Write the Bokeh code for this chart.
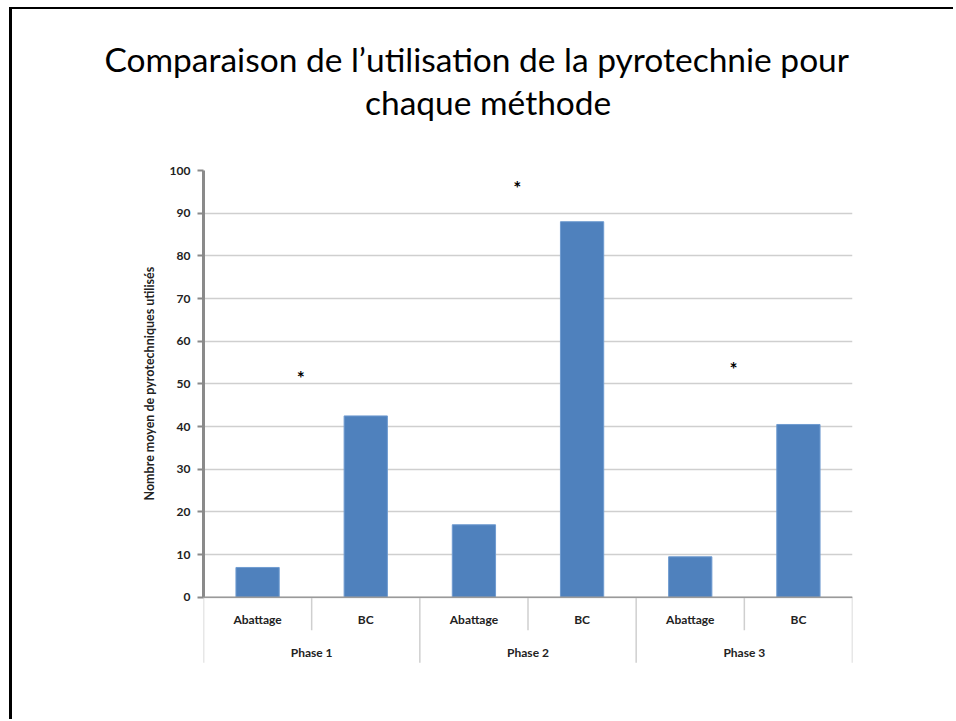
from bokeh.plotting import figure
from bokeh.models import FactorRange, Range1d, Title, Span, SingleIntervalTicker, ColumnDataSource
from bokeh.core.properties import value
from bokeh.embed import file_html
from bokeh.resources import INLINE

phases = ["Phase 1", "Phase 2", "Phase 3"]
methods = ["Abattage", "BC"]
values = [7, 42.5, 17, 88, 9.5, 40.5]
star_heights = [51.5, 96, 53.5]
title_lines = ["Comparaison de l\u2019utilisation de la pyrotechnie pour", "chaque m\u00e9thode"]
y_label = "Nombre moyen de pyrotechniques utilis\u00e9s"

factors = [(ph, m) for ph in phases for m in methods]
FONT = "Lato"

p = figure(width=944, height=712, output_backend="svg", toolbar_location=None,
           x_range=FactorRange(*factors, group_padding=0, factor_padding=0, range_padding=0),
           y_range=Range1d(-15.5, 100),
           min_border_left=191, min_border_right=104, min_border_top=161, min_border_bottom=58)
p.styles = {"margin-left": "9px", "margin-top": "7px",
            "border-left": "3px solid black", "border-top": "2px solid black"}
p.outline_line_color = None
p.xaxis.visible = False
p.xgrid.visible = False

# titles (closest to frame added first)
t2 = Title(text=title_lines[1], align="left", offset=161.5, text_font=FONT, text_font_size="33.5px",
           text_font_style="normal", text_color="black", standoff=97)
t1 = Title(text=title_lines[0], align="left", offset=-99, text_font=FONT, text_font_size="33.5px",
           text_font_style="normal", text_color="black", standoff=-95)
p.add_layout(t2, "above")
p.add_layout(t1, "above")

# y axis
yax = p.yaxis[0]
yax.ticker = SingleIntervalTicker(interval=10)
yax.bounds = (0, 100)
yax.axis_line_color = "#8a8a8a"
yax.axis_line_width = 3
yax.major_tick_out = 6
yax.major_tick_in = 0
yax.major_tick_line_color = "#8a8a8a"
yax.major_tick_line_width = 2
yax.minor_tick_line_color = None
yax.major_label_text_font = FONT
yax.major_label_text_font_size = "12px"
yax.major_label_text_font_style = "bold"
yax.major_label_text_color = "#222222"
yax.major_label_standoff = 7

ylab = Title(text=y_label, align="left", offset=163, text_font=FONT, text_font_size="12.5px",
             text_font_style="bold", text_color="#222222", standoff=19)
p.add_layout(ylab, "left")

p.ygrid.ticker = SingleIntervalTicker(interval=10)
p.ygrid.bounds = (0, 100)
p.ygrid.grid_line_color = "#cfcfcf"
p.ygrid.grid_line_width = 1.5

# bars
src = ColumnDataSource(dict(x=factors, top=values))
p.vbar(x="x", top="top", width=0.4, source=src, fill_color="#4f81bd", line_color="#6f9bd0", line_width=1)

# baseline
p.add_layout(Span(location=0, dimension="width", line_color="#9a9a9a", line_width=1.5))

# category separators
inner = [(ph, methods[1], -0.5) for ph in phases]
outer = [(ph, methods[0], -0.5) for ph in phases] + [(phases[-1], methods[-1], 0.5)]
p.segment(x0=inner, x1=inner, y0=[0] * len(inner), y1=[-7.7] * len(inner), line_color="#cfcfcf", line_width=1.5)
p.segment(x0=outer, x1=outer, y0=[0] * len(outer), y1=[-15.3] * len(outer), line_color="#cfcfcf", line_width=1.5)

# category labels
p.text(x=factors, y=[-5.3] * len(factors), text=[f[1] for f in factors], text_align="center",
       text_baseline="middle", text_font=value(FONT), text_font_size="12px", text_font_style="bold",
       text_color="#222222")
p.text(x=phases, y=[-12.9] * len(phases), text=phases, text_align="center",
       text_baseline="middle", text_font=value(FONT), text_font_size="12px", text_font_style="bold",
       text_color="#222222")

# significance stars
star_x = [(ph, methods[1], -0.6) for ph in phases]
p.text(x=star_x, y=star_heights, text=["*"] * len(phases), text_align="center", text_baseline="middle",
       text_font=value(FONT), text_font_size="19px", text_font_style="bold", text_color="black")

open("out.html", "w").write(file_html(p, INLINE))
